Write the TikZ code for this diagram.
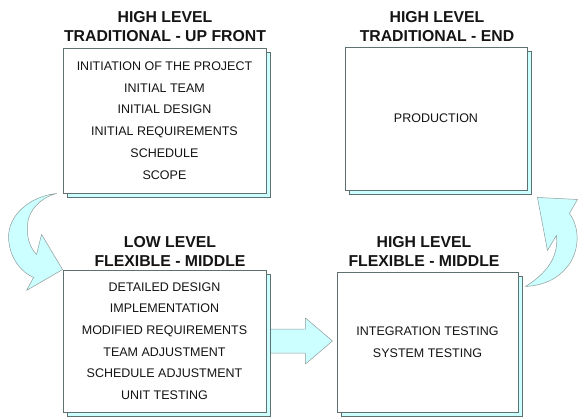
\documentclass[tikz,border=0pt]{standalone}
\usepackage{fontspec}
\setmainfont{Liberation Sans}
\usetikzlibrary{calc,shadows,backgrounds}
\definecolor{sky-fill}{RGB}{204,255,255}
\definecolor{sky-edge}{RGB}{95,112,112}
\definecolor{ink}{RGB}{20,20,20}

\tikzset{
	phase/.style={draw=sky-edge, fill=white, line width=.9pt, inner sep=0pt, align=center,
		font=\fontsize{12.5}{21.7}\selectfont, text=ink,
		drop shadow={shadow xshift=4pt, shadow yshift=-4pt, opacity=1, fill=sky-fill, draw=sky-edge, line width=.7pt}},
	heading/.style={align=center, inner sep=0pt, text=ink, font=\bfseries\fontsize{15.8}{19}\selectfont},
	fatarrow/.style={fill=sky-fill, draw=sky-edge!70, line width=.5pt, line join=round}
}

\begin{document}
\begin{tikzpicture}[x=1pt, y=-1pt]
\useasboundingbox (0,0) rectangle (580,416);
% phases
\node [phase, minimum width=203pt, minimum height=145pt] (upfront) at (164.5,120.5) {INITIATION OF THE PROJECT\\INITIAL TEAM\\INITIAL DESIGN\\INITIAL REQUIREMENTS\\SCHEDULE\\SCOPE};
\node [phase, minimum width=182pt, minimum height=143pt] (finish) at (436,118.5) {PRODUCTION};
\node [phase, minimum width=203pt, minimum height=142pt] (lowmid) at (164.5,341) {DETAILED DESIGN\\IMPLEMENTATION\\MODIFIED REQUIREMENTS\\TEAM ADJUSTMENT\\SCHEDULE ADJUSTMENT\\UNIT TESTING};
\node [phase, minimum width=181pt, minimum height=140pt] (highmid) at (427.5,342) {INTEGRATION TESTING\\SYSTEM TESTING};
% headings
\node [heading] (upfront-title) at (165,26.5) {HIGH LEVEL\\TRADITIONAL - UP FRONT};
\node [heading] (finish-title) at (437,26.5) {HIGH LEVEL\\TRADITIONAL - END};
\node [heading] (lowmid-title) at (170,251) {LOW LEVEL\\FLEXIBLE - MIDDLE};
\node [heading] (highmid-title) at (424,251) {HIGH LEVEL\\FLEXIBLE - MIDDLE};
% arrows
\begin{scope}[on background layer]
	\draw [fatarrow] ($(lowmid.east)+(0,-12)$) -- ++(39,0) -- ++(0,-11) -- ($(lowmid.east)+(66,0)$) -- ++(-27,23) -- ++(0,-11) -- ++(-39,0) -- cycle;
	\draw [fatarrow, shift={(upfront.south west)}] (-6,0) .. controls (-33,3) and (-55,22) .. (-54,45) .. controls (-53,65) and (-41,79) .. (-29,84) -- (-36,97) -- (lowmid.north west) -- (-21,41) -- (-26,61) .. controls (-35,52) and (-37,37) .. (-34,25) .. controls (-30,12) and (-18,3) .. (-6,0) -- cycle;
	\draw [fatarrow, shift={(finish.south east)}] (-2,96) .. controls (18,95) and (33,87) .. (43,72) .. controls (53,55) and (51,35) .. (42,23) -- (50,9) -- (10,7) -- (20,60) -- (29,45) .. controls (31,62) and (24,80) .. (-2,96) -- cycle;
\end{scope}
\end{tikzpicture}
\end{document}
